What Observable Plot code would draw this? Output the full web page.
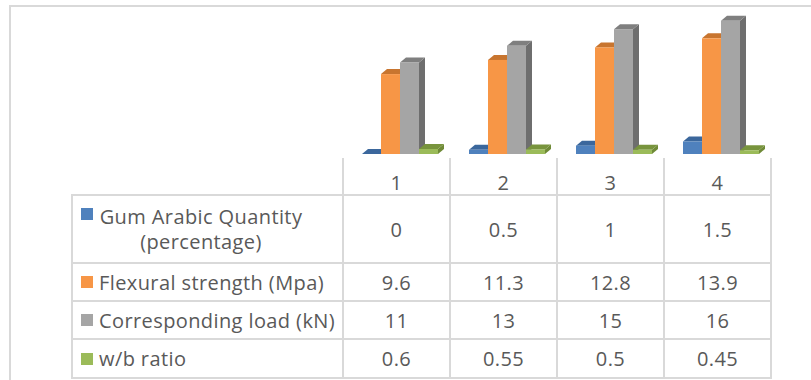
<!DOCTYPE html>
<html><head><meta charset="utf-8">
<script src="https://cdn.jsdelivr.net/npm/d3@7"></script>
<script src="https://cdn.jsdelivr.net/npm/@observablehq/plot@0.6"></script>
<style>
body{margin:0;background:#fff;}
#wrap{position:relative;width:811px;height:380px;overflow:hidden;font-family:"Open Sans",sans-serif;color:#595959;font-size:20px;letter-spacing:0.4px;}
.ln{position:absolute;background:#d9d9d9;}
.cell{position:absolute;display:flex;align-items:center;justify-content:center;white-space:nowrap;}
.key{position:absolute;width:12px;height:12px;}
svg{position:absolute;left:0;top:0;}
</style></head><body><div id="wrap"></div>
<script>
const categories = ["1", "2", "3", "4"];
const seriesNames = ["Gum Arabic Quantity (percentage)", "Flexural strength (Mpa)", "Corresponding load (kN)", "w/b ratio"];
const gumArabic = [0, 0.5, 1, 1.5];
const flexural = [9.6, 11.3, 12.8, 13.9];
const load = [11, 13, 15, 16];
const wbRatio = [0.6, 0.55, 0.5, 0.45];
const frontColors = ["#4f81bd", "#f79646", "#a5a5a5", "#9bbb59"];
const topColors = ["#3b679c", "#c8752f", "#7f7f7f", "#78943d"];
const sideColors = ["#35608f", "#b96a28", "#6e6e6e", "#6f8a37"];

const seriesValues = [gumArabic, flexural, load, wbRatio];
const data = [];
categories.forEach((c, i) => seriesNames.forEach((s, j) => data.push({cat: c, series: s, value: seriesValues[j][i]})));

const DX = 6, DY = 5;
function bar3d(index, scales, values, dimensions, context, next) {
  const g = next(index, scales, values, dimensions, context);
  const ns = "http://www.w3.org/2000/svg";
  const rects = Array.from(g.querySelectorAll("rect"));
  rects.forEach((r, k) => {
    const i = index[k];
    const j = seriesNames.indexOf(data[i].series);
    const x = +r.getAttribute("x"), y = +r.getAttribute("y");
    const w = +r.getAttribute("width"), h = +r.getAttribute("height");
    const side = document.createElementNS(ns, "polygon");
    side.setAttribute("points", `${x+w},${y} ${x+w+DX},${y-DY} ${x+w+DX},${y+h-DY} ${x+w},${y+h}`);
    side.setAttribute("fill", sideColors[j]);
    const top = document.createElementNS(ns, "polygon");
    top.setAttribute("points", `${x},${y} ${x+DX},${y-DY} ${x+w+DX},${y-DY} ${x+w},${y}`);
    top.setAttribute("fill", topColors[j]);
    r.parentNode.insertBefore(side, r);
    r.parentNode.insertBefore(top, r);
  });
  return g;
}

const chart = Plot.plot({
  width: 811, height: 158,
  marginLeft: 342, marginRight: 39, marginTop: 0, marginBottom: 4,
  fx: {domain: categories, padding: 0, axis: null},
  x: {domain: seriesNames, paddingInner: 0, paddingOuter: 0.756, align: 0.62, axis: null},
  y: {domain: [0, 18.5], axis: null},
  color: {domain: seriesNames, range: frontColors},
  marks: [
    Plot.barY(data, {fx: "cat", x: "series", y: "value", fill: "series", render: bar3d})
  ]
});

const wrap = document.getElementById("wrap");
const frame = document.createElement("div");
frame.style.cssText = "position:absolute;left:9px;top:5px;width:820px;height:400px;border-left:2px solid #d9d9d9;border-top:2px solid #d9d9d9;";
wrap.appendChild(frame);
wrap.appendChild(chart);

const fx = chart.scale("fx");
const colLeft = categories.map(c => fx.apply(c));
const bw = fx.bandwidth;
const tableLeft = 72, tableRight = colLeft[3] + bw;
const rowTops = [158, 195, 263, 301, 339, 378];
const labelLines = [["Gum Arabic Quantity", "(percentage)"], ["Flexural strength (Mpa)"], ["Corresponding load (kN)"], ["w/b ratio"]];

function line(x, y, w, h) {
  const d = document.createElement("div");
  d.className = "ln";
  d.style.cssText = `left:${x}px;top:${y}px;width:${w}px;height:${h}px;`;
  wrap.appendChild(d);
}
for (let r = 1; r < rowTops.length; r++) line(tableLeft - 1, rowTops[r] - 1, tableRight - tableLeft + 2, 2);
line(tableLeft - 1, rowTops[1] - 1, 2, rowTops[5] - rowTops[1] + 2);
colLeft.forEach(x => line(x - 1, rowTops[0], 2, rowTops[5] - rowTops[0] + 1));
line(tableRight - 1, rowTops[0], 2, rowTops[5] - rowTops[0] + 1);

function cell(text, left, top, width, height, extra) {
  const d = document.createElement("div");
  d.className = "cell";
  d.style.cssText = `left:${left}px;top:${top}px;width:${width}px;height:${height}px;` + (extra || "");
  d.innerHTML = text;
  wrap.appendChild(d);
  return d;
}
categories.forEach((c, i) => cell(c, colLeft[i], 164, bw, 36));
seriesNames.forEach((s, j) => {
  const top = rowTops[j + 1], h = rowTops[j + 2] - top;
  seriesValues[j].forEach((v, i) => cell(String(v), colLeft[i], top, bw, h));
  const k = document.createElement("div");
  k.className = "key";
  k.style.background = frontColors[j];
  k.style.left = "81px";
  k.style.top = (j === 0 ? 208 : top + h / 2 - 6) + "px";
  wrap.appendChild(k);
  if (j === 0) {
    cell(labelLines[j].join("<br>"), 99, top, 204, h, "text-align:center;line-height:25px;");
  } else {
    cell(labelLines[j][0], 99, top, 240, h, "justify-content:flex-start;");
  }
});
</script></body></html>
